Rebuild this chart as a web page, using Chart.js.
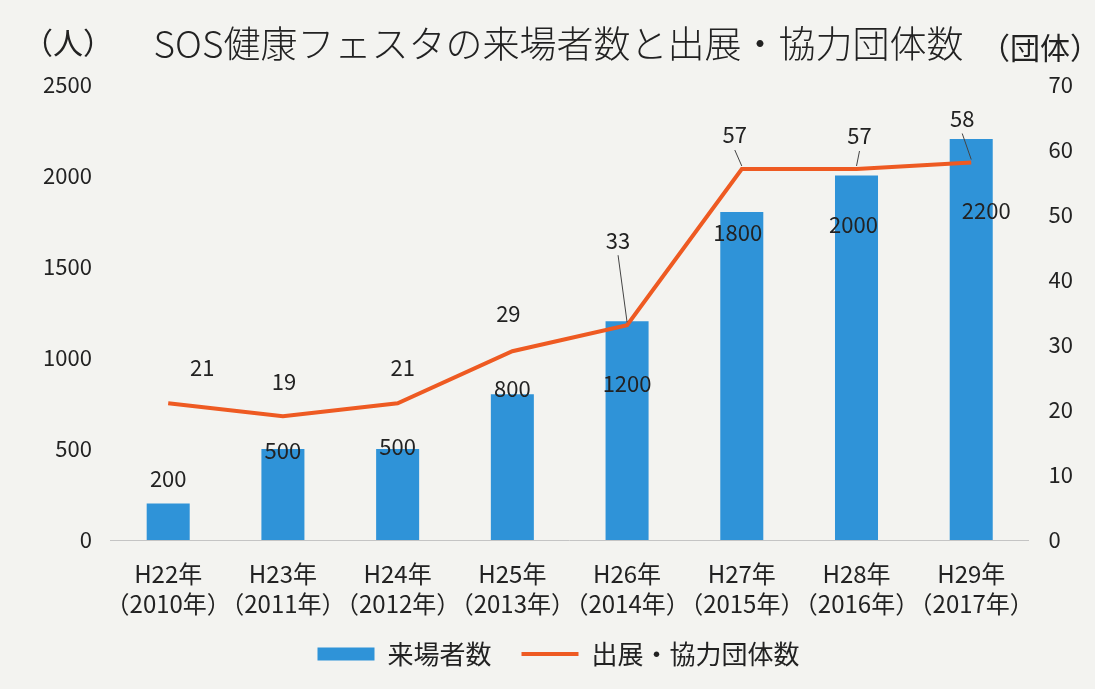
<!DOCTYPE html>
<html>
<head>
<meta charset="utf-8">
<script src="https://cdn.jsdelivr.net/npm/chart.js@4.4.1/dist/chart.umd.min.js"></script>
<style>
  html, body { margin: 0; padding: 0; background: #f3f3f0; }
  #wrap { width: 1095px; height: 689px; position: relative; }
</style>
</head>
<body>
<div id="wrap"><canvas id="chartSOS"></canvas></div>
<script>
// data
const years = [
    ['H22年', '（2010年）'], ['H23年', '（2011年）'], ['H24年', '（2012年）'], ['H25年', '（2013年）'],
    ['H26年', '（2014年）'], ['H27年', '（2015年）'], ['H28年', '（2016年）'], ['H29年', '（2017年）']
];
const visitors = [200, 500, 500, 800, 1200, 1800, 2000, 2200];
const groups = [21, 19, 21, 29, 33, 57, 57, 58];
const leftTicks = [0, 500, 1000, 1500, 2000, 2500];
const rightTicks = [0, 10, 20, 30, 40, 50, 60, 70];

// label placement (pixel nudges, like the hand-moved labels in the original)
const barLabelNudge = [[0, -25], [0, 2], [0, -2], [0, -6], [0, 62], [-4, 21], [-3, 49], [15, 72]];
const lineLabelNudge = [[34, -36], [1, -35], [5, -36], [-4, -38], [-9, -85], [-7, -34], [3, -33], [-9, -44]];
const leader = [false, false, false, false, true, true, true, true];

const FONT = "'Noto Sans CJK JP', 'Noto Sans', sans-serif";
const INK = '#222222';

const paperBg = {
    id: 'paperBg',
    beforeDraw(chart) {
        // let the two-line year labels run below the (squeezed) x scale box
        chart.scales.x._computeLabelArea = () => null;
        const c = chart.ctx;
        c.save();
        c.fillStyle = '#f3f3f0';
        c.fillRect(0, 0, chart.width, chart.height);
        c.restore();
    }
};

const valueLabels = {
    id: 'valueLabels',
    afterDatasetsDraw(chart) {
        const c = chart.ctx;
        c.save();
        c.font = '22px ' + FONT;
        c.fillStyle = INK;
        c.textAlign = 'center';
        c.textBaseline = 'middle';

        chart.getDatasetMeta(0).data.forEach((bar, i) => {
            const [dx, dy] = barLabelNudge[i];
            c.fillText(String(visitors[i]), bar.x + dx, bar.y + dy);
        });

        chart.getDatasetMeta(1).data.forEach((pt, i) => {
            const [dx, dy] = lineLabelNudge[i];
            const lx = pt.x + dx, ly = pt.y + dy;
            c.fillText(String(groups[i]), lx, ly);
            if (leader[i]) {
                c.strokeStyle = '#444';
                c.lineWidth = 1;
                c.beginPath();
                c.moveTo(lx, ly + 15);
                c.lineTo(pt.x, pt.y - 3);
                c.stroke();
            }
        });

        // axis unit captions
        c.font = '30px ' + FONT;
        c.fillText('（人）', 68, 43);
        c.fillText('（団体）', 1040, 48);
        c.restore();
    }
};

let ctx = document.querySelector('#chartSOS').getContext('2d');
let chartSOS = new Chart(ctx, {
    data: {
        labels: years,
        datasets: [{
            type: 'bar',
            label: '来場者数',
            data: visitors,
            yAxisID: 'y',
            backgroundColor: '#2f93d8',
            barPercentage: 0.375,
            categoryPercentage: 1.0,
            pointStyle: 'rect',
            order: 2
        }, {
            type: 'line',
            label: '出展・協力団体数',
            data: groups,
            yAxisID: 'y1',
            borderColor: '#ee5a22',
            backgroundColor: '#ee5a22',
            borderWidth: 4,
            pointRadius: 0,
            tension: 0,
            pointStyle: 'line',
            order: 1
        }]
    },
    options: {
        responsive: true,
        maintainAspectRatio: false,
        animation: false,
        layout: {
            padding: { top: 18, left: 32, right: 10, bottom: 12 }
        },
        plugins: {
            tooltip: { enabled: false },
            title: {
                display: true,
                text: 'SOS健康フェスタの来場者数と出展・協力団体数',
                color: INK,
                font: { family: FONT, size: 37, weight: 300 },
                padding: { top: 4, bottom: 18 }
            },
            legend: {
                position: 'bottom',
                labels: {
                    usePointStyle: true,
                    pointStyleWidth: 57,
                    boxHeight: 13,
                    padding: 30,
                    color: INK,
                    font: { family: FONT, size: 26 },
                    sort: (a, b) => a.datasetIndex - b.datasetIndex
                }
            }
        },
        scales: {
            x: {
                grid: { display: false },
                border: { display: true, color: '#c4c4c4', width: 1 },
                ticks: {
                    color: INK,
                    padding: 11,
                    maxRotation: 0,
                    autoSkip: false,
                    font: { family: FONT, size: 24, lineHeight: 1.25 }
                },
                afterFit: (scale) => { scale.height -= 19; }
            },
            y: {
                position: 'left',
                min: leftTicks[0],
                max: leftTicks[leftTicks.length - 1],
                grid: { display: false },
                border: { display: false },
                ticks: {
                    stepSize: leftTicks[1] - leftTicks[0],
                    callback: (v) => String(v),
                    color: INK,
                    padding: 11,
                    font: { family: FONT, size: 22 }
                }
            },
            y1: {
                position: 'right',
                min: rightTicks[0],
                max: rightTicks[rightTicks.length - 1],
                grid: { display: false },
                border: { display: false },
                ticks: {
                    stepSize: rightTicks[1] - rightTicks[0],
                    callback: (v) => String(v),
                    color: INK,
                    padding: 12,
                    font: { family: FONT, size: 22 }
                }
            }
        }
    },
    plugins: [paperBg, valueLabels]
});
</script>
</body>
</html>
